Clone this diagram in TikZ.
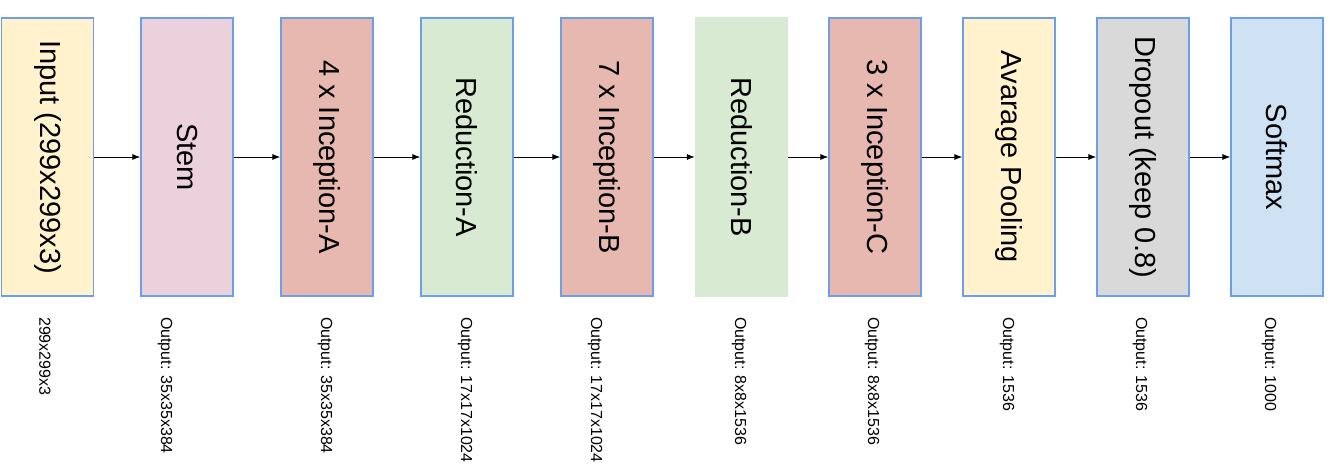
\documentclass[tikz,border=0pt]{standalone}
\usepackage{fontspec}
\setmainfont{Liberation Sans}
\usetikzlibrary{arrows.meta}
\definecolor{inyellow}{HTML}{FFF2CC}
\definecolor{stempink}{HTML}{EAD1DC}
\definecolor{incred}{HTML}{E6B8AF}
\definecolor{redgreen}{HTML}{D9EAD3}
\definecolor{dropgray}{HTML}{D9D9D9}
\definecolor{softblue}{HTML}{CFE2F3}
\definecolor{edgeblue}{HTML}{6D9EEB}
\tikzset{
	layer/.style={draw=edgeblue, line width=1.2pt, rotate=-90, minimum width=278pt, minimum height=92pt, inner sep=0pt, font=\fontsize{29}{34}\selectfont},
	outlabel/.style={rotate=-90, anchor=west, inner sep=0pt, font=\fontsize{16}{19}\selectfont},
	flow/.style={-{Latex[length=8pt,width=6pt]}, line width=0.9pt}
}
\begin{document}
\begin{tikzpicture}[x=1pt,y=1pt]
			\useasboundingbox (0,0) rectangle (1330,-476);
			\node[layer, fill=inyellow] (input) at (47.5,-157) {Input (299x299x3)};
			\node[layer, fill=stempink] (stem) at (187,-157) {Stem};
			\node[layer, fill=incred] (incA) at (327,-157) {4 x Inception-A};
			\node[layer, fill=redgreen] (redA) at (467,-157) {Reduction-A};
			\node[layer, fill=incred] (incB) at (607,-157) {7 x Inception-B};
			\node[layer, fill=redgreen, draw=redgreen] (redB) at (741.5,-157) {Reduction-B};
			\node[layer, fill=incred] (incC) at (875,-157) {3 x Inception-C};
			\node[layer, fill=inyellow] (avgpool) at (1009,-157) {Avarage Pooling};
			\node[layer, fill=dropgray] (dropout) at (1143,-157) {Dropout (keep 0.8)};
			\node[layer, fill=softblue] (softmax) at (1277,-157) {Softmax};
			\draw[flow] (input) -- (stem);
			\draw[flow] (stem) -- (incA);
			\draw[flow] (incA) -- (redA);
			\draw[flow] (redA) -- (incB);
			\draw[flow] (incB) -- (redB);
			\draw[flow] (redB) -- (incC);
			\draw[flow] (incC) -- (avgpool);
			\draw[flow] (avgpool) -- (dropout);
			\draw[flow] (dropout) -- (softmax);
%			output sizes under each layer
			\node[outlabel] (inputout) at (45,-317) {299x299x3};
			\node[outlabel] (stemout) at (165,-317) {Output: 35x35x384};
			\node[outlabel] (incAout) at (325,-317) {Output: 35x35x384};
			\node[outlabel] (redAout) at (465,-317) {Output: 17x17x1024};
			\node[outlabel] (incBout) at (595,-317) {Output: 17x17x1024};
			\node[outlabel] (redBout) at (739,-317) {Output: 8x8x1536};
			\node[outlabel] (incCout) at (872,-317) {Output: 8x8x1536};
			\node[outlabel] (avgpoolout) at (1007,-317) {Output: 1536};
			\node[outlabel] (dropoutout) at (1140,-317) {Output: 1536};
			\node[outlabel] (softmaxout) at (1269,-317) {Output: 1000};
		\end{tikzpicture}
\end{document}
